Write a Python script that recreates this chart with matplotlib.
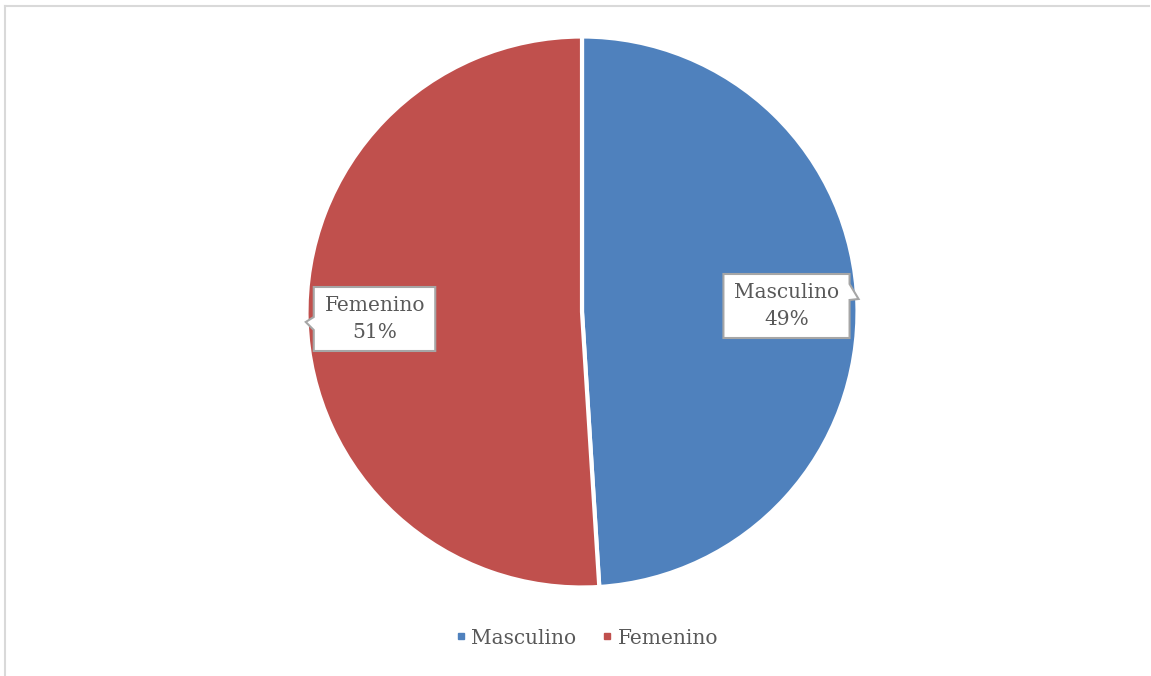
import matplotlib
matplotlib.use("Agg")
import matplotlib.pyplot as plt
from matplotlib.patches import Polygon
from matplotlib.lines import Line2D

categories = ["Masculino", "Femenino"]
values = [49, 51]
colors = ["#4F81BD", "#C0504D"]

W, H = 1151, 676
fig = plt.figure(figsize=(W / 100, H / 100), dpi=100)
ax = fig.add_axes([0, 0, 1, 1])

cx, cy, r = 582, H - 312, 275.5
wedges, _ = ax.pie(values, colors=colors, startangle=90, counterclock=False,
                   center=(cx, cy), radius=r, frame=True,
                   wedgeprops=dict(edgecolor="white", linewidth=3))
ax.set_xlim(0, W)
ax.set_ylim(0, H)
ax.set_aspect("equal")
ax.axis("off")

# chart-area border (only left and top visible)
ax.add_line(Line2D([5.5, 5.5], [0, H - 6], color="#D9D9D9", lw=1.5))
ax.add_line(Line2D([5.5, W - 1.5], [H - 6, H - 6], color="#D9D9D9", lw=1.5))

font = "DejaVu Serif"
txtcol = "#595959"
label_pos = [(787, H - 306), (375, H - 319)]
sides = ["right", "left"]
texts = []
for cat, v, (tx, ty) in zip(categories, values, label_pos):
    t = ax.text(tx, ty, f"{cat}\n{v}%", ha="center", va="center", fontsize=14.5,
                family=font, color=txtcol, linespacing=1.55, zorder=5)
    texts.append(t)

fig.canvas.draw()
renderer = fig.canvas.get_renderer()
for t, side in zip(texts, sides):
    bb = t.get_window_extent(renderer)
    x0, x1 = bb.x0 - 11, bb.x1 + 10
    ym = (bb.y0 + bb.y1) / 2
    y1 = ym + 32
    y0 = ym - 32
    if side == "right":
        pts = [(x0, y0), (x1, y0), (x1, y1 - 26), (x1 + 9, y1 - 25), (x1, y1 - 10), (x1, y1), (x0, y1)]
    else:
        pts = [(x0, y0), (x1, y0), (x1, y1), (x0, y1), (x0, y1 - 30), (x0 - 8, y1 - 35), (x0, y1 - 43)]
    ax.add_patch(Polygon(pts, closed=True, fc="white", ec="#A6A6A6", lw=1.5, zorder=4,
                         joinstyle="miter"))

handles = [Line2D([], [], marker="s", ls="", markersize=5, color=c) for c in colors]
leg = ax.legend(handles, categories, loc="center", bbox_to_anchor=(587 / W, 1 - 638 / H),
                ncol=2, frameon=False, prop=dict(family=font, size=14.5),
                handlelength=0.5, handletextpad=0.25, columnspacing=1.3)
for t in leg.get_texts():
    t.set_color(txtcol)

fig.savefig("out.png", dpi=100)
